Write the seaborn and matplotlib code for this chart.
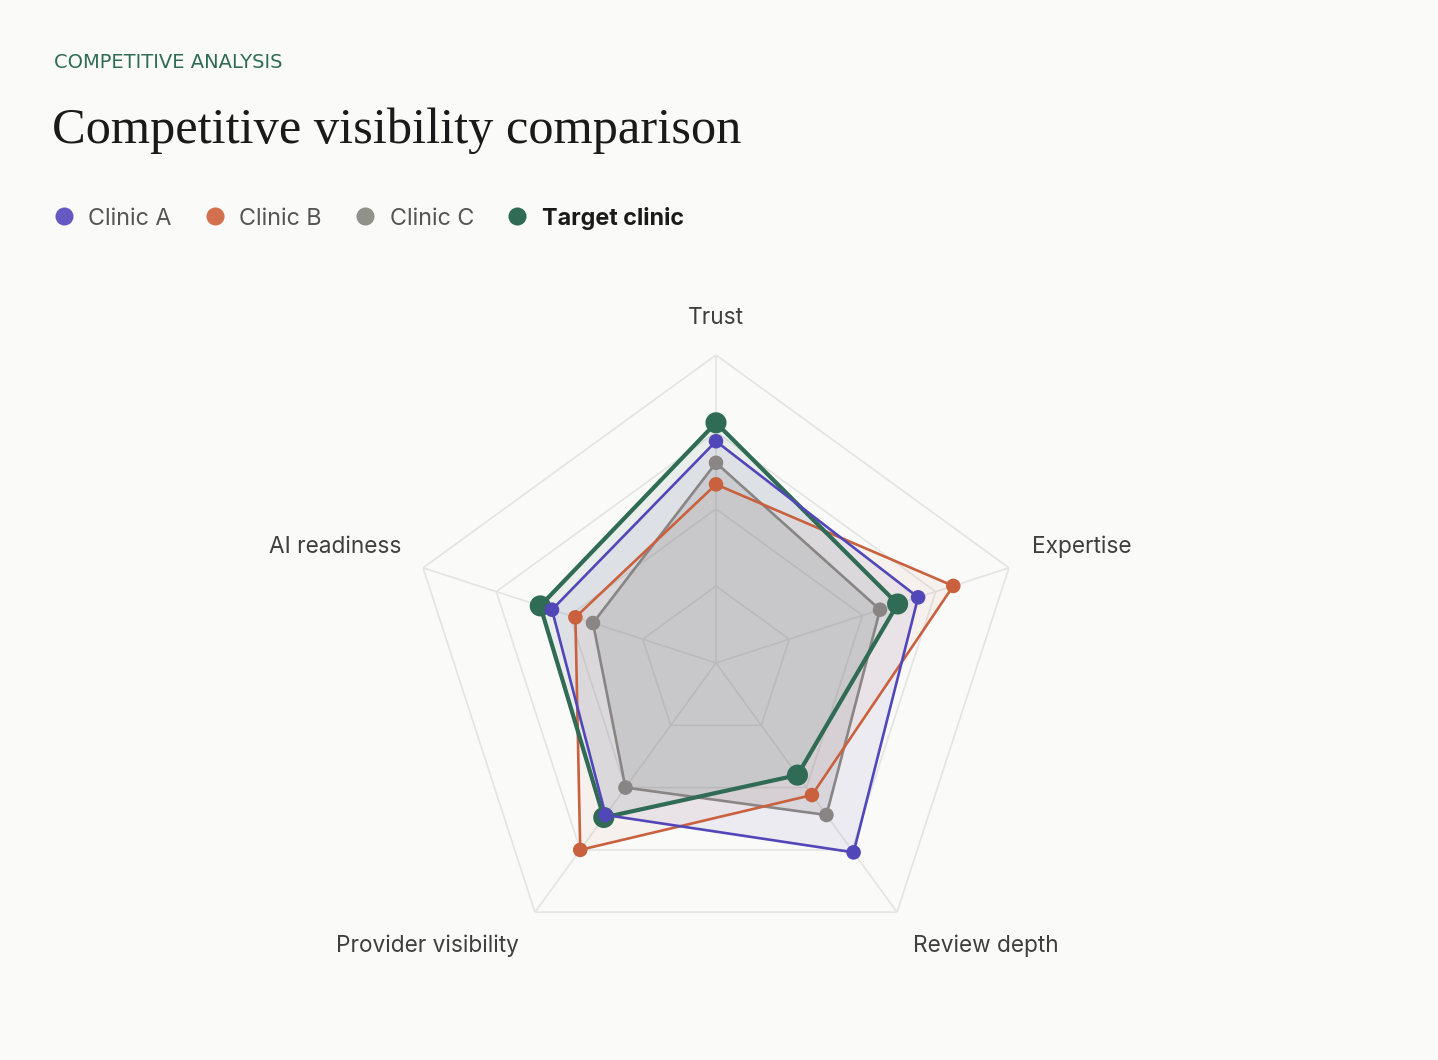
import numpy as np
import pandas as pd
import matplotlib
matplotlib.use("Agg")
import matplotlib.pyplot as plt
import seaborn as sns
from matplotlib.lines import Line2D

# ---------------- data ----------------
axes_labels = ["Trust", "Expertise", "Review depth", "Provider visibility", "AI readiness"]
series_names = ["Clinic A", "Clinic B", "Clinic C", "Target clinic"]
clinic_a = [72, 69, 76, 61, 56]
clinic_b = [58, 81, 53, 75, 48]
clinic_c = [65, 56, 61, 50, 42]
target = [78, 62, 45, 62, 60]
grid_levels = [25, 50, 75, 100]

colors = {"Clinic A": "#5247B8", "Clinic B": "#C9613F", "Clinic C": "#8A8585", "Target clinic": "#2F6B55"}
legend_colors = {"Clinic A": "#6459C2", "Clinic B": "#D3714F", "Clinic C": "#90918B", "Target clinic": "#2F6B55"}
fill_alpha = {"Clinic A": 0.08, "Clinic B": 0.06, "Clinic C": 0.2, "Target clinic": 0.08}

BG = "#FAFAF8"
sns.set_theme(style="white")
plt.rcParams["font.family"] = ["Inter", "DejaVu Sans"]

values = {"Clinic A": clinic_a, "Clinic B": clinic_b, "Clinic C": clinic_c, "Target clinic": target}
n = len(axes_labels)
theta = np.linspace(0, 2 * np.pi, n, endpoint=False)

rows = []
for name in series_names:
    vals = values[name]
    for i in range(n + 1):
        rows.append({"series": name, "theta": theta[i % n], "value": vals[i % n], "order": i})
df = pd.DataFrame(rows)

fig = plt.figure(figsize=(14.38, 10.6), dpi=100, facecolor=BG)
ax = fig.add_axes([408 / 1438, 1 - 971 / 1060, 616 / 1438, 616 / 1060], projection="polar")
ax.set_facecolor(BG)
ax.patch.set_alpha(0)
ax.set_theta_offset(np.pi / 2)
ax.set_theta_direction(-1)
ax.set_ylim(0, 100)
ax.grid(False)
ax.spines["polar"].set_visible(False)

# polygon grid
gc = "#E4E4E2"
for lv in grid_levels:
    ax.plot(np.append(theta, theta[0]), [lv] * (n + 1), color=gc, lw=1.2, zorder=1)
for t in theta:
    ax.plot([t, t], [0, 100], color=gc, lw=1.2, zorder=1)

# fills
for name in series_names:
    sub = df[df.series == name]
    ax.fill(sub.theta.values, sub.value.values, color=colors[name], alpha=fill_alpha[name], lw=0, zorder=2)

draw_order = ["Clinic C", "Clinic B", "Target clinic", "Clinic A"]
for k, name in enumerate(draw_order):
    sub = df[df.series == name]
    is_t = name == "Target clinic"
    sns.lineplot(data=sub, x="theta", y="value", sort=False, estimator=None, ax=ax,
                 color=colors[name], lw=3.0 if is_t else 1.9, zorder=3 + k * 2, legend=False)
    sns.scatterplot(data=sub[sub.order < n], x="theta", y="value", ax=ax, color=colors[name],
                    s=230 if is_t else 110, edgecolor="none", zorder=4 + k * 2, legend=False)
ax.set_xlabel("")
ax.set_ylabel("")
ax.set_xticks([])
ax.set_yticks([])
ax.set_ylim(0, 100)

# axis labels
lab_kw = dict(transform=ax.transAxes, fontsize=16.3, color="#3F3F3F", va="center")
ax.text(0.5, (971 - 318) / 616, axes_labels[0], ha="center", **lab_kw)
ax.text((1032 - 408) / 616, (971 - 547) / 616, axes_labels[1], ha="left", **lab_kw)
ax.text((986 - 408) / 616, (971 - 946) / 616, axes_labels[2], ha="center", **lab_kw)
ax.text((427 - 408) / 616, (971 - 946) / 616, axes_labels[3], ha="center", **lab_kw)
ax.text((401 - 408) / 616, (971 - 547) / 616, axes_labels[4], ha="right", **lab_kw)

# header
fig.text(54 / 1438, 1 - 63 / 1060, "COMPETITIVE ANALYSIS", fontsize=14, color="#2F6B55",
         va="center", ha="left", family=["DejaVu Sans"])
fig.text(52 / 1438, 1 - 143 / 1060, "Competitive visibility comparison", fontsize=36.4,
         color="#1A1A1A", va="baseline", ha="left", family=["Liberation Serif"])

# legend
handles = [Line2D([0], [0], marker="o", ls="none", markersize=13, color=legend_colors[s],
                  markeredgewidth=0) for s in series_names]
leg = fig.legend(handles, series_names, loc="center left", bbox_to_anchor=(52 / 1438, 1 - 218 / 1060),
                 ncol=4, frameon=False, fontsize=16.8, handlelength=1.0, handletextpad=0.55,
                 columnspacing=1.35, borderpad=0, borderaxespad=0)
for i, t in enumerate(leg.get_texts()):
    if i == 3:
        t.set_color("#1A1A1A")
        t.set_fontweight("bold")
    else:
        t.set_color("#555555")

fig.savefig("out.png", dpi=100, facecolor=BG)
